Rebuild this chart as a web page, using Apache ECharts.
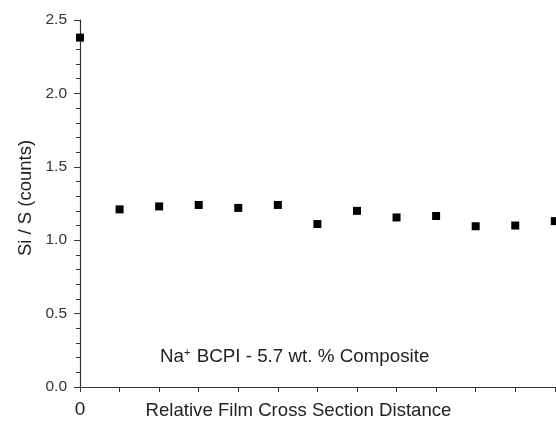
<!DOCTYPE html>
<html>
<head>
<meta charset="utf-8">
<script src="https://cdn.jsdelivr.net/npm/echarts@6/dist/echarts.min.js"></script>
<style>
  html, body { margin: 0; padding: 0; background: #fff; }
  #chart { width: 556px; height: 423px; }
</style>
</head>
<body>
<div id="chart"></div>
<script>
  // positions along the film cross section (tick index), and Si/S ratio
  var positions = [0, 1, 2, 3, 4, 5, 6, 7, 8, 9, 10, 11, 12];
  var siS = [2.38, 1.21, 1.23, 1.24, 1.22, 1.24, 1.11, 1.20, 1.155, 1.165, 1.095, 1.10, 1.13];
  var xTickValues = [0, 1, 2, 3, 4, 5, 6, 7, 8, 9, 10, 11, 12];
  var xLabelValues = [0, 12];
  // the right-hand label sits almost entirely past the edge of the picture
  var xLabelText = {0: '0', 12: '{edge|1}'};

  var points = [];
  for (var i = 0; i < positions.length; i++) {
    points.push([positions[i], siS[i]]);
  }

  var font = 'Liberation Sans, Arial, sans-serif';
  var axisColor = '#333';

  var chart = echarts.init(document.getElementById('chart'));
  chart.setOption({
    animation: false,
    grid: { left: 77, right: 0, top: 20, bottom: 36, containLabel: false, outerBoundsMode: 'none' },
    xAxis: {
      type: 'value',
      min: -0.076,
      max: 12.03,
      name: 'Relative Film Cross Section Distance',
      nameLocation: 'middle',
      nameGap: 14,
      nameMoveOverlap: false,
      nameTextStyle: { fontFamily: font, fontSize: 18.6, color: '#222', padding: [0, 36, 0, 0] },
      axisLine: { lineStyle: { color: axisColor, width: 1.2 } },
      axisTick: { show: true, length: 5, customValues: xTickValues, lineStyle: { color: axisColor } },
      axisLabel: {
        customValues: xLabelValues,
        margin: 13,
        hideOverlap: false,
        fontFamily: font, fontSize: 19, color: '#222',
        formatter: function (v) { return xLabelText[v]; },
        rich: {
          edge: { fontFamily: font, fontSize: 19, color: '#222', padding: [0, 0, 0, 20] }
        }
      },
      splitLine: { show: false }
    },
    yAxis: {
      type: 'value',
      min: 0,
      max: 2.5,
      interval: 0.5,
      name: 'Si / S (counts)',
      nameLocation: 'middle',
      nameGap: 42,
      nameMoveOverlap: false,
      nameTextStyle: { fontFamily: font, fontSize: 18.5, color: '#222', padding: [0, 0, 0, 11] },
      axisLine: { show: true, lineStyle: { color: axisColor, width: 1.2 } },
      axisTick: { show: true, inside: false, length: 6, lineStyle: { color: axisColor } },
      minorTick: { show: true, splitNumber: 5, length: 4, lineStyle: { color: axisColor } },
      axisLabel: {
        margin: 10,
        fontFamily: font, fontSize: 15.5, color: '#333',
        formatter: function (v) { return v.toFixed(1); }
      },
      splitLine: { show: false }
    },
    graphic: [{
      type: 'text',
      left: 160,
      top: 347,
      style: {
        text: '{n|Na}{s|+}{n| BCPI - 5.7 wt. % Composite}',
        rich: {
          n: { fontFamily: font, fontSize: 18.8, fill: '#222' },
          s: { fontFamily: font, fontSize: 11, fill: '#222', verticalAlign: 'top', padding: [0, 1, 7, 0] }
        }
      }
    }],
    series: [{
      type: 'scatter',
      data: points,
      symbol: 'rect',
      symbolSize: 8,
      itemStyle: { color: '#000', opacity: 1 }
    }]
  });
</script>
</body>
</html>
